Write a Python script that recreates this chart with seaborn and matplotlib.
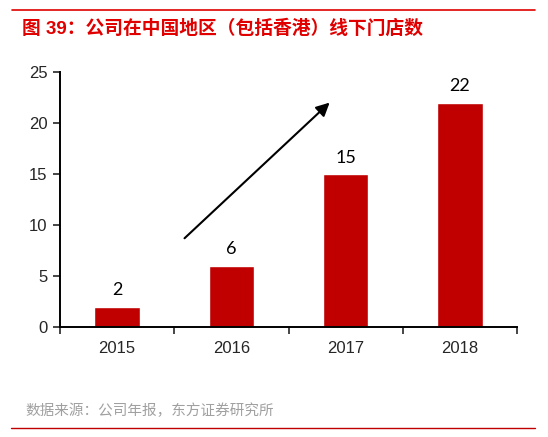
import matplotlib
matplotlib.use("Agg")
import matplotlib.pyplot as plt
from matplotlib.lines import Line2D
import seaborn as sns

sns.set_style("white")
plt.rcParams['font.family'] = ['Liberation Sans', 'Noto Sans CJK SC', 'DejaVu Sans']

# data
years = ['2015', '2016', '2017', '2018']
stores = [2, 6, 15, 22]
yticks = [0, 5, 10, 15, 20, 25]

title = '图 39：公司在中国地区（包括香港）线下门店数'
source = '数据来源：公司年报，东方证券研究所'

bar_color = '#C00000'
red = '#E00000'

fig = plt.figure(figsize=(5.48, 4.37), dpi=100)
ax = fig.add_axes([60 / 548, 110 / 437, 457 / 548, 255 / 437])

sns.barplot(x=years, y=stores, color=bar_color, width=0.4, saturation=1, ax=ax)

# value labels
for c in ax.containers:
    ax.bar_label(c, labels=[str(v) for v in stores], padding=6,
                 fontsize=13, family=['Lato', 'DejaVu Sans'], color='black')

# axes
ax.set_ylim(0, 25)
ax.set_xlim(-0.5, len(years) - 0.5)
ax.set_yticks(yticks)
ax.set_xlabel('')
ax.set_ylabel('')
for s in ['top', 'right']:
    ax.spines[s].set_visible(False)
for s in ['left', 'bottom']:
    ax.spines[s].set_color('black')
    ax.spines[s].set_linewidth(1.4)

ax.tick_params(axis='y', direction='out', length=5, width=1.2, labelsize=12, pad=4, left=True)
ax.tick_params(axis='x', which='major', length=0, labelsize=12, pad=10)
ax.set_xticks([i - 0.5 for i in range(len(years) + 1)], minor=True)
ax.tick_params(axis='x', which='minor', direction='out', length=5, width=1.2, bottom=True)

# trend arrow
ax.annotate('', xy=(1.86, 22.0), xytext=(0.59, 8.7),
            arrowprops=dict(arrowstyle='-|>', color='black', lw=1.5,
                            mutation_scale=20, shrinkA=0, shrinkB=0))

# title, source and rules
fig.text(22 / 548, 1 - 28 / 437, title, fontsize=13.5, fontweight='bold', color=red,
         va='center', ha='left', family=['Liberation Sans', 'Noto Sans CJK SC'])
fig.text(25 / 548, 1 - 411 / 437, source, fontsize=10.5, color='#A0A0A0',
         va='center', ha='left', family=['Noto Sans CJK SC', 'DejaVu Sans'])
fig.add_artist(Line2D([12 / 548, 535 / 548], [1 - 10 / 437] * 2, color=red, lw=1.2))
fig.add_artist(Line2D([11 / 548, 535 / 548], [1 - 428 / 437] * 2, color='#C00000', lw=1.0))

fig.savefig('out.png', dpi=100)
